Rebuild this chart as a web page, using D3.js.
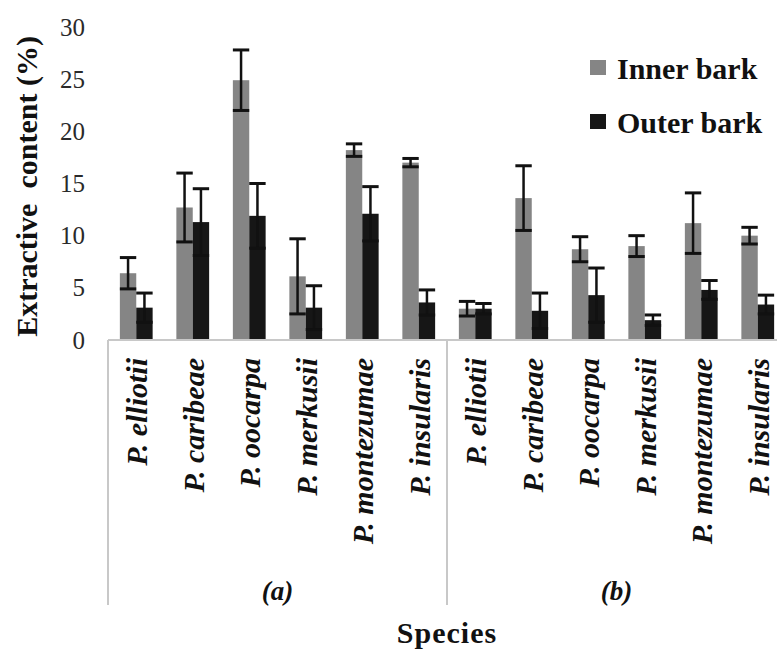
<!DOCTYPE html>
<html>
<head>
<meta charset="utf-8">
<script src="https://cdn.jsdelivr.net/npm/d3@7"></script>
<style>
  body { margin: 0; background: #fff; }
  svg text { font-family: "Liberation Serif", "Tinos", "Times New Roman", "DejaVu Serif", serif; }
</style>
</head>
<body>
<div id="chart"></div>
<script>
// data
const groups = ["(a)", "(b)"];
const species = ["P. elliotii", "P. caribeae", "P. oocarpa", "P. merkusii", "P. montezumae", "P. insularis"];
const series = ["Inner bark", "Outer bark"];
const innerA = [6.4, 12.7, 24.9, 6.1, 18.2, 17.0];
const innerAErr = [1.5, 3.3, 2.9, 3.6, 0.6, 0.4];
const outerA = [3.1, 11.3, 11.9, 3.1, 12.1, 3.6];
const outerAErr = [1.4, 3.2, 3.1, 2.1, 2.6, 1.2];
const innerB = [3.0, 13.6, 8.7, 9.0, 11.2, 10.0];
const innerBErr = [0.7, 3.1, 1.2, 1.0, 2.9, 0.8];
const outerB = [3.0, 2.8, 4.3, 1.9, 4.8, 3.4];
const outerBErr = [0.5, 1.7, 2.6, 0.5, 0.9, 0.9];
const yTicks = [0, 5, 10, 15, 20, 25, 30];

const colors = { "Inner bark": "#858585", "Outer bark": "#161616" };

const width = 777, height = 650;
const margin = { left: 108, right: -9, top: 27, bottom: 310 };
const plotBottom = height - margin.bottom; // 340

const svg = d3.select("#chart").append("svg")
  .attr("width", width)
  .attr("height", height);

const xGroup = d3.scaleBand().domain(groups).range([margin.left, width - margin.right]);
const xSpecies = d3.scaleBand().domain(species).range([0, xGroup.bandwidth()])
  .paddingInner(0.42).paddingOuter(0.21);
const xSeries = d3.scaleBand().domain(series).range([0, xSpecies.bandwidth()]);
const y = d3.scaleLinear().domain([0, 30]).range([plotBottom, margin.top]);

const rows = [];
groups.forEach((g, gi) => {
  const inner = gi === 0 ? innerA : innerB;
  const innerErr = gi === 0 ? innerAErr : innerBErr;
  const outer = gi === 0 ? outerA : outerB;
  const outerErr = gi === 0 ? outerAErr : outerBErr;
  species.forEach((s, i) => {
    rows.push({ group: g, species: s, series: "Inner bark", value: inner[i], err: innerErr[i] });
    rows.push({ group: g, species: s, series: "Outer bark", value: outer[i], err: outerErr[i] });
  });
});
const barX = d => xGroup(d.group) + xSpecies(d.species) + xSeries(d.series);

// y axis (labels only)
svg.append("g")
  .attr("transform", "translate(" + margin.left + ",0)")
  .call(d3.axisLeft(y).tickValues(yTicks).tickSize(0).tickPadding(23))
  .call(g => g.select(".domain").remove())
  .call(g => g.attr("font-family", null))
  .selectAll("text")
  .attr("font-size", 25)
  .attr("fill", "#2a2a2a");

// bars
svg.selectAll(".bar")
  .data(rows)
  .enter()
  .append("rect")
  .attr("class", "bar")
  .attr("x", barX)
  .attr("width", xSeries.bandwidth())
  .attr("y", d => y(d.value))
  .attr("height", d => y(0) - y(d.value))
  .attr("fill", d => colors[d.series]);

// error bars
const eb = svg.selectAll(".err").data(rows).enter().append("g").attr("class", "err")
  .attr("stroke", "#111").attr("stroke-width", 2.5);
eb.append("line")
  .attr("x1", d => barX(d) + xSeries.bandwidth() / 2)
  .attr("x2", d => barX(d) + xSeries.bandwidth() / 2)
  .attr("y1", d => y(d.value - d.err))
  .attr("y2", d => y(d.value + d.err));
eb.append("line")
  .attr("x1", d => barX(d))
  .attr("x2", d => barX(d) + xSeries.bandwidth())
  .attr("y1", d => y(d.value + d.err))
  .attr("y2", d => y(d.value + d.err))
  .attr("stroke-width", 3);
eb.append("line")
  .attr("x1", d => barX(d))
  .attr("x2", d => barX(d) + xSeries.bandwidth())
  .attr("y1", d => y(d.value - d.err))
  .attr("y2", d => y(d.value - d.err))
  .attr("stroke-width", 3);

// x axis line and group separators
const sepBottom = 605;
svg.append("line")
  .attr("x1", margin.left).attr("x2", width - margin.right)
  .attr("y1", y(0)).attr("y2", y(0))
  .attr("stroke", "#c8c8c8").attr("stroke-width", 2);
const seps = groups.map(g => xGroup(g)).concat([xGroup(groups[1]) + xGroup.bandwidth()]);
svg.selectAll(".sep").data(seps).enter().append("line")
  .attr("class", "sep")
  .attr("x1", d => d).attr("x2", d => d)
  .attr("y1", y(0)).attr("y2", sepBottom)
  .attr("stroke", "#c8c8c8").attr("stroke-width", 2);

// species labels
groups.forEach(g => {
  species.forEach(s => {
    const cx = xGroup(g) + xSpecies(s) + xSpecies.bandwidth() / 2;
    svg.append("text")
      .attr("transform", "translate(" + (cx + 11) + "," + (y(0) + 18) + ") rotate(-90)")
      .attr("text-anchor", "end")
      .attr("font-size", 30)
      .attr("font-weight", "bold")
      .attr("font-style", "italic")
      .attr("fill", "#111")
      .text(s);
  });
  svg.append("text")
    .attr("x", xGroup(g) + xGroup.bandwidth() / 2)
    .attr("y", 600)
    .attr("text-anchor", "middle")
    .attr("font-size", 27)
    .attr("font-weight", "bold")
    .attr("font-style", "italic")
    .attr("fill", "#111")
    .text(g);
});

// axis titles
svg.append("text")
  .attr("x", (xGroup.range()[0] + xGroup.range()[1]) / 2)
  .attr("y", 643)
  .attr("text-anchor", "middle")
  .attr("font-size", 30)
  .attr("font-weight", "bold")
  .attr("letter-spacing", 1)
  .attr("fill", "#111")
  .text("Species");

svg.append("text")
  .attr("transform", "translate(37," + ((margin.top + plotBottom) / 2 + 3) + ") rotate(-90)")
  .attr("text-anchor", "middle")
  .attr("font-size", 30)
  .attr("font-weight", "bold")
  .attr("fill", "#111")
  .style("white-space", "pre")
  .text("Extractive  content (%)");

// legend
const legend = svg.selectAll(".legend").data(series).enter().append("g")
  .attr("class", "legend")
  .attr("transform", (d, i) => "translate(590," + (60 + i * 54) + ")");
legend.append("rect")
  .attr("width", 16).attr("height", 15)
  .attr("fill", d => colors[d]);
legend.append("text")
  .attr("x", 27).attr("y", 19)
  .attr("font-size", 30)
  .attr("font-weight", "bold")
  .attr("fill", "#111")
  .text(d => d);
</script>
</body>
</html>
